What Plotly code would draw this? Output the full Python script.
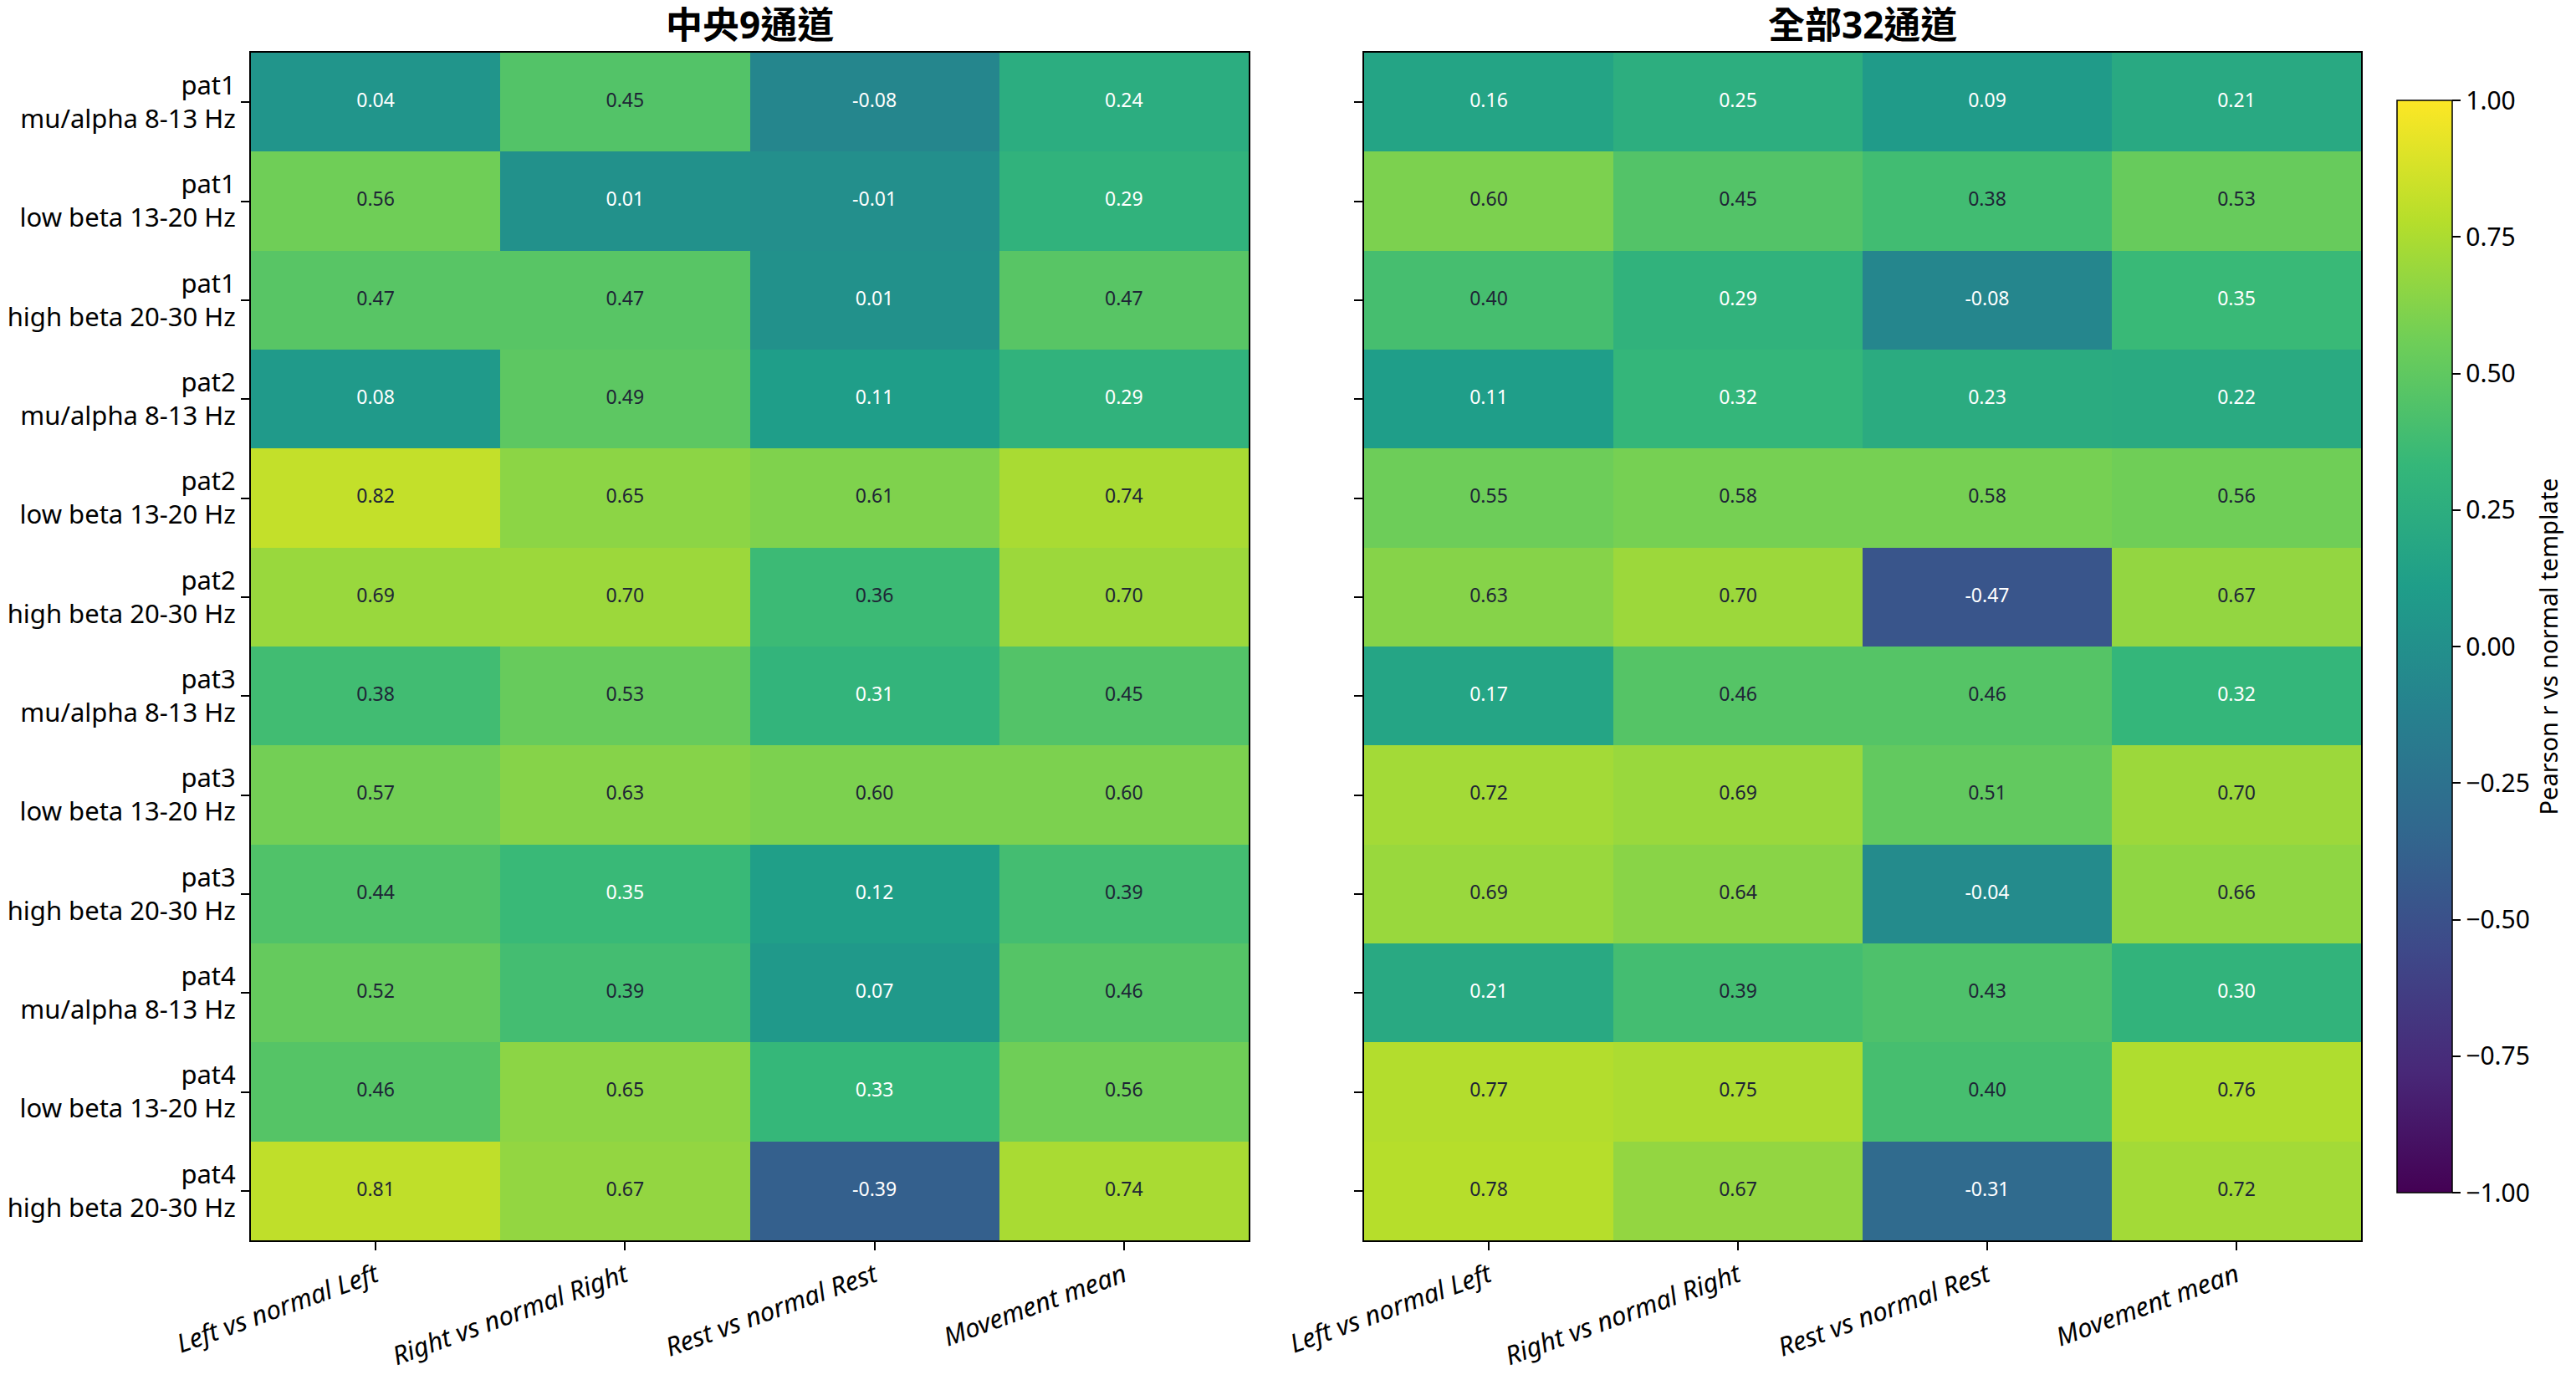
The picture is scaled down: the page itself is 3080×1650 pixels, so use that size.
import plotly.graph_objects as go

# ---------------- data ----------------
conditions = ["Left vs normal Left", "Right vs normal Right", "Rest vs normal Rest", "Movement mean"]
row_labels = [
    "pat1<br>mu/alpha 8-13 Hz", "pat1<br>low beta 13-20 Hz", "pat1<br>high beta 20-30 Hz",
    "pat2<br>mu/alpha 8-13 Hz", "pat2<br>low beta 13-20 Hz", "pat2<br>high beta 20-30 Hz",
    "pat3<br>mu/alpha 8-13 Hz", "pat3<br>low beta 13-20 Hz", "pat3<br>high beta 20-30 Hz",
    "pat4<br>mu/alpha 8-13 Hz", "pat4<br>low beta 13-20 Hz", "pat4<br>high beta 20-30 Hz",
]
panel_titles = ["中央9通道", "全部32通道"]

central9 = [
    [0.04, 0.45, -0.08, 0.24],
    [0.56, 0.01, -0.01, 0.29],
    [0.47, 0.47, 0.01, 0.47],
    [0.08, 0.49, 0.11, 0.29],
    [0.82, 0.65, 0.61, 0.74],
    [0.69, 0.70, 0.36, 0.70],
    [0.38, 0.53, 0.31, 0.45],
    [0.57, 0.63, 0.60, 0.60],
    [0.44, 0.35, 0.12, 0.39],
    [0.52, 0.39, 0.07, 0.46],
    [0.46, 0.65, 0.33, 0.56],
    [0.81, 0.67, -0.39, 0.74],
]
all32 = [
    [0.16, 0.25, 0.09, 0.21],
    [0.60, 0.45, 0.38, 0.53],
    [0.40, 0.29, -0.08, 0.35],
    [0.11, 0.32, 0.23, 0.22],
    [0.55, 0.58, 0.58, 0.56],
    [0.63, 0.70, -0.47, 0.67],
    [0.17, 0.46, 0.46, 0.32],
    [0.72, 0.69, 0.51, 0.70],
    [0.69, 0.64, -0.04, 0.66],
    [0.21, 0.39, 0.43, 0.30],
    [0.77, 0.75, 0.40, 0.76],
    [0.78, 0.67, -0.31, 0.72],
]

colorbar_title = "Pearson r vs normal template"
colorbar_ticks = [-1.0, -0.75, -0.5, -0.25, 0.0, 0.25, 0.5, 0.75, 1.0]

# ---------------- styling ----------------
FONT = "Noto Sans, Noto Sans CJK TC, sans-serif"
DARK = "#1e2536"
W, H = 3080, 1650

x_domains = [[300 / W, 1493 / W], [1631 / W, 2823 / W]]
y_domain = [1 - 1483 / H, 1 - 63 / H]

fig = go.Figure()
nrows = len(row_labels)
ncols = len(conditions)

for p, data in enumerate([central9, all32]):
    xa = "x" if p == 0 else "x2"
    ya = "y" if p == 0 else "y2"
    hm = dict(
        z=data,
        x=list(range(ncols)),
        y=list(range(nrows)),
        zmin=-1, zmax=1,
        colorscale="Viridis",
        xaxis=xa, yaxis=ya,
        hoverinfo="skip",
    )
    if p == 1:
        hm.update(
            showscale=True,
            colorbar=dict(
                x=2866 / W, xanchor="left", xref="paper",
                y=1 - (120 + 1426) / 2 / H, yanchor="middle",
                len=(1426 - 120) / H, lenmode="fraction",
                xpad=0, ypad=0,
                thickness=66, thicknessmode="pixels",
                outlinewidth=1.5, outlinecolor="black",
                ticks="outside", ticklen=10, tickwidth=2, tickcolor="black",
                tickvals=colorbar_ticks,
                ticktext=[("−" if v < 0 else "") + f"{abs(v):.2f}" for v in colorbar_ticks],
                tickfont=dict(family=FONT, size=30, color="black"),
                title=dict(text=colorbar_title, side="right",
                           font=dict(family=FONT, size=29, color="black")),
            ),
        )
    else:
        hm.update(showscale=False)
    fig.add_trace(go.Heatmap(**hm))

    xs, ys, txt, cols = [], [], [], []
    for r in range(nrows):
        for c in range(ncols):
            v = data[r][c]
            xs.append(c)
            ys.append(r)
            txt.append(f"{v:.2f}")
            cols.append(DARK if v >= 0.355 else "white")
    fig.add_trace(go.Scatter(
        x=xs, y=ys, text=txt, mode="text",
        textfont=dict(family=FONT, size=23, color=cols),
        xaxis=xa, yaxis=ya, showlegend=False, hoverinfo="skip",
    ))

axis_common = dict(
    showline=True, linecolor="black", linewidth=2, mirror=True,
    ticks="outside", ticklen=10, tickwidth=2, tickcolor="black",
    showgrid=False, zeroline=False, automargin=False,
)

fig.update_layout(
    width=W, height=H,
    margin=dict(l=0, r=0, t=0, b=0, autoexpand=False),
    paper_bgcolor="white", plot_bgcolor="white",
    showlegend=False,
    font=dict(family=FONT, size=31, color="black"),
    xaxis=dict(domain=x_domains[0], anchor="y", range=[-0.5, ncols - 0.5],
               tickvals=list(range(ncols)), ticktext=conditions, tickangle=-20,
               tickfont=dict(family=FONT, size=31, style="italic"), **axis_common),
    xaxis2=dict(domain=x_domains[1], anchor="y2", range=[-0.5, ncols - 0.5],
                tickvals=list(range(ncols)), ticktext=conditions, tickangle=-20,
                tickfont=dict(family=FONT, size=31, style="italic"), **axis_common),
    yaxis=dict(domain=y_domain, anchor="x", range=[nrows - 0.5, -0.5],
               tickvals=list(range(nrows)), ticktext=row_labels,
               tickfont=dict(family=FONT, size=31), **axis_common),
    yaxis2=dict(domain=y_domain, anchor="x2", range=[nrows - 0.5, -0.5],
                tickvals=list(range(nrows)), showticklabels=False, **axis_common),
)

for p, title in enumerate(panel_titles):
    fig.add_annotation(
        text=f"<b>{title}</b>", xref="paper", yref="paper",
        x=(x_domains[p][0] + x_domains[p][1]) / 2, y=1 - 29 / H,
        xanchor="center", yanchor="middle", showarrow=False,
        font=dict(family=FONT, size=44, color="black"),
    )

fig.write_html("out.html")
